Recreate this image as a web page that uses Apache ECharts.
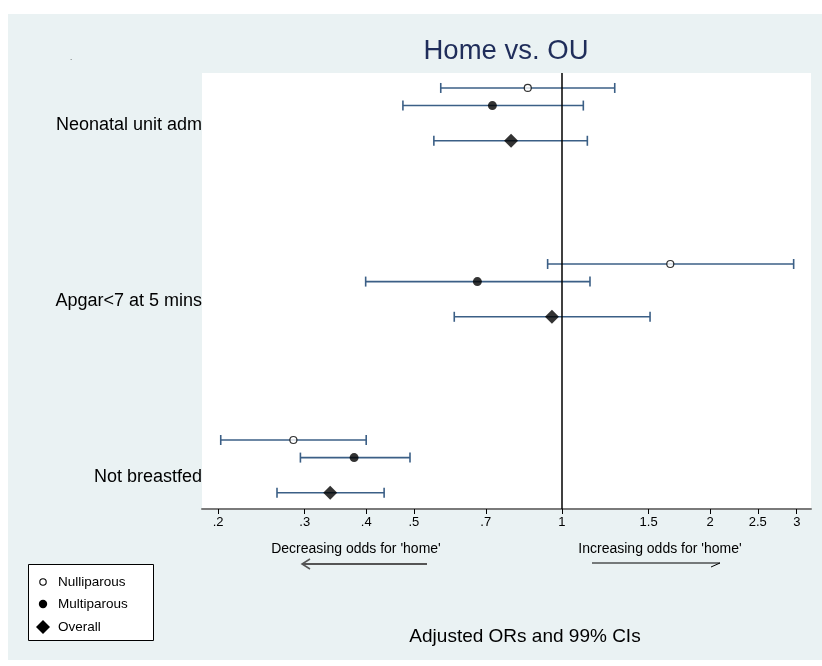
<!DOCTYPE html>
<html>
<head>
<meta charset="utf-8">
<script src="https://cdn.jsdelivr.net/npm/echarts@6/dist/echarts.min.js"></script>
<style>
  html, body { margin: 0; padding: 0; background: #ffffff; }
  #chart { width: 822px; height: 666px; }
</style>
</head>
<body>
<div id="chart"></div>
<script>
// Outcomes (one row group each), top to bottom
const categories = ['Neonatal unit adm', 'Apgar<7 at 5 mins', 'Not breastfed'];

// Adjusted odds ratios with 99% confidence limits
const nulliOR = [0.852, 1.66, 0.2845];
const nulliLo = [0.567, 0.935, 0.2025];
const nulliHi = [1.28, 2.957, 0.400];

const multiOR = [0.722, 0.673, 0.378];
const multiLo = [0.475, 0.399, 0.294];
const multiHi = [1.105, 1.14, 0.491];

const overallOR = [0.788, 0.954, 0.338];
const overallLo = [0.549, 0.604, 0.2635];
const overallHi = [1.126, 1.51, 0.435];

// Odds-ratio ticks on the log axis
const tickValues = [0.2, 0.3, 0.4, 0.5, 0.7, 1, 1.5, 2, 2.5, 3];
const tickLabels = ['.2', '.3', '.4', '.5', '.7', '1', '1.5', '2', '2.5', '3'];

// ---- layout of rows within each outcome group ----
const GROUP_STEP = 10;
const ROW_OFFSET = { nulli: 0, multi: 1, overall: 3 };
const LABEL_OFFSET = 2.1;
const rowPos = (g, key) => g * GROUP_STEP + ROW_OFFSET[key];

const ln = Math.log;
const ciColor = '#3b5f86';
const FONT = 'Liberation Sans, Arial, sans-serif';

function ciData(lo, hi, key) {
  return lo.map((l, g) => [ln(l), ln(hi[g]), rowPos(g, key)]);
}
function pointData(or, key) {
  return or.map((v, g) => [ln(v), rowPos(g, key)]);
}

function renderCI(params, api) {
  const y = api.value(2);
  const a = api.coord([api.value(0), y]);
  const b = api.coord([api.value(1), y]);
  const cap = 5;
  const style = { stroke: ciColor, lineWidth: 1.6 };
  return {
    type: 'group',
    children: [
      { type: 'line', shape: { x1: a[0], y1: a[1], x2: b[0], y2: b[1] }, style },
      { type: 'line', shape: { x1: a[0], y1: a[1] - cap, x2: a[0], y2: a[1] + cap }, style },
      { type: 'line', shape: { x1: b[0], y1: b[1] - cap, x2: b[0], y2: b[1] + cap }, style }
    ]
  };
}

const ciSeries = [
  ['nulli', nulliLo, nulliHi],
  ['multi', multiLo, multiHi],
  ['overall', overallLo, overallHi]
].map(([key, lo, hi]) => ({
  type: 'custom',
  renderItem: renderCI,
  encode: { x: [0, 1], y: 2 },
  data: ciData(lo, hi, key),
  silent: true,
  z: 2
}));

const chart = echarts.init(document.getElementById('chart'), null, { renderer: 'canvas' });

chart.setOption({
  animation: false,
  backgroundColor: '#ffffff',
  textStyle: { fontFamily: FONT },
  grid: {
    left: 202, right: 11, top: 73, bottom: 157,
    show: true, backgroundColor: '#ffffff', borderWidth: 0
  },
  xAxis: {
    type: 'value',
    min: ln(0.1855),
    max: ln(3.207),
    splitLine: { show: false },
    axisLine: { show: true, onZero: false, lineStyle: { color: '#7a7a7a', width: 2 } },
    axisTick: {
      show: true, length: 5, lineStyle: { color: '#000', width: 1 },
      customValues: tickValues.map(ln)
    },
    axisLabel: {
      customValues: tickValues.map(ln),
      color: '#000', fontSize: 13, margin: 7, fontFamily: FONT,
      formatter: (v) => {
        let best = 0;
        tickValues.forEach((t, i) => { if (Math.abs(ln(t) - v) < Math.abs(ln(tickValues[best]) - v)) best = i; });
        return tickLabels[best];
      }
    }
  },
  yAxis: {
    type: 'value',
    inverse: true,
    min: -0.85,
    max: 23.92,
    splitLine: { show: false },
    axisLine: { show: false },
    axisTick: { show: false },
    axisLabel: {
      customValues: categories.map((c, g) => g * GROUP_STEP + LABEL_OFFSET),
      color: '#000', fontSize: 18, margin: 0, fontFamily: FONT,
      formatter: (v) => categories[Math.round((v - LABEL_OFFSET) / GROUP_STEP)]
    }
  },
  series: [
    ...ciSeries,
    {
      name: 'Nulliparous',
      type: 'scatter',
      symbol: 'circle',
      symbolSize: 7,
      itemStyle: { color: '#ffffff', borderColor: '#000', borderWidth: 1.2 },
      data: pointData(nulliOR, 'nulli'),
      z: 5,
      markLine: {
        silent: true,
        symbol: ['none', 'none'],
        label: { show: false },
        lineStyle: { color: '#000', width: 1.5, type: 'solid' },
        data: [{ xAxis: ln(1) }]
      }
    },
    {
      name: 'Multiparous',
      type: 'scatter',
      symbol: 'circle',
      symbolSize: 9,
      itemStyle: { color: '#000' },
      data: pointData(multiOR, 'multi'),
      z: 5
    },
    {
      name: 'Overall',
      type: 'scatter',
      symbol: 'diamond',
      symbolSize: [14, 14],
      itemStyle: { color: '#000' },
      data: pointData(overallOR, 'overall'),
      z: 5
    }
  ],
  graphic: [
    // outer panel
    { type: 'rect', z: -100, silent: true,
      shape: { x: 8, y: 14, width: 814, height: 646 },
      style: { fill: '#eaf2f3' } },
    { type: 'text', x: 71, y: 62, silent: true,
      style: { text: '.', fill: '#333', font: '8px ' + FONT, align: 'center', verticalAlign: 'bottom' } },
    // title
    { type: 'text', x: 506, y: 51, silent: true,
      style: { text: 'Home vs. OU', fill: '#1f2d5a', font: '27.5px ' + FONT, align: 'center', verticalAlign: 'middle' } },
    // direction notes under the axis
    { type: 'text', x: 356, y: 549, silent: true,
      style: { text: "Decreasing odds for 'home'", fill: '#000', font: '14px ' + FONT, align: 'center', verticalAlign: 'middle' } },
    { type: 'text', x: 660, y: 549, silent: true,
      style: { text: "Increasing odds for 'home'", fill: '#000', font: '14px ' + FONT, align: 'center', verticalAlign: 'middle' } },
    { type: 'polyline', silent: true,
      shape: { points: [[427, 564], [302, 564]] }, style: { stroke: '#555', lineWidth: 2, fill: null } },
    { type: 'polyline', silent: true,
      shape: { points: [[310, 559], [302, 564], [310, 569]] }, style: { stroke: '#555', lineWidth: 1.5, fill: null } },
    { type: 'polyline', silent: true,
      shape: { points: [[592, 563], [720, 563]] }, style: { stroke: '#000', lineWidth: 1, fill: null } },
    { type: 'polyline', silent: true,
      shape: { points: [[711, 567], [720, 563]] }, style: { stroke: '#000', lineWidth: 1, fill: null } },
    // legend
    { type: 'rect', silent: true,
      shape: { x: 28.5, y: 564.5, width: 125, height: 76 },
      style: { fill: '#ffffff', stroke: '#000', lineWidth: 1 } },
    { type: 'circle', silent: true, shape: { cx: 43, cy: 582, r: 3.2 },
      style: { fill: '#fff', stroke: '#000', lineWidth: 1.1 } },
    { type: 'circle', silent: true, shape: { cx: 43, cy: 604, r: 4.2 },
      style: { fill: '#000' } },
    { type: 'polygon', silent: true, shape: { points: [[43, 620], [50, 627], [43, 634], [36, 627]] },
      style: { fill: '#000' } },
    { type: 'text', x: 58, y: 582, silent: true,
      style: { text: 'Nulliparous', fill: '#000', font: '13.5px ' + FONT, verticalAlign: 'middle' } },
    { type: 'text', x: 58, y: 604, silent: true,
      style: { text: 'Multiparous', fill: '#000', font: '13.5px ' + FONT, verticalAlign: 'middle' } },
    { type: 'text', x: 58, y: 627, silent: true,
      style: { text: 'Overall', fill: '#000', font: '13.5px ' + FONT, verticalAlign: 'middle' } },
    // note
    { type: 'text', x: 525, y: 637, silent: true,
      style: { text: 'Adjusted ORs and 99% CIs', fill: '#000', font: '19px ' + FONT, align: 'center', verticalAlign: 'middle' } }
  ]
});
</script>
</body>
</html>
